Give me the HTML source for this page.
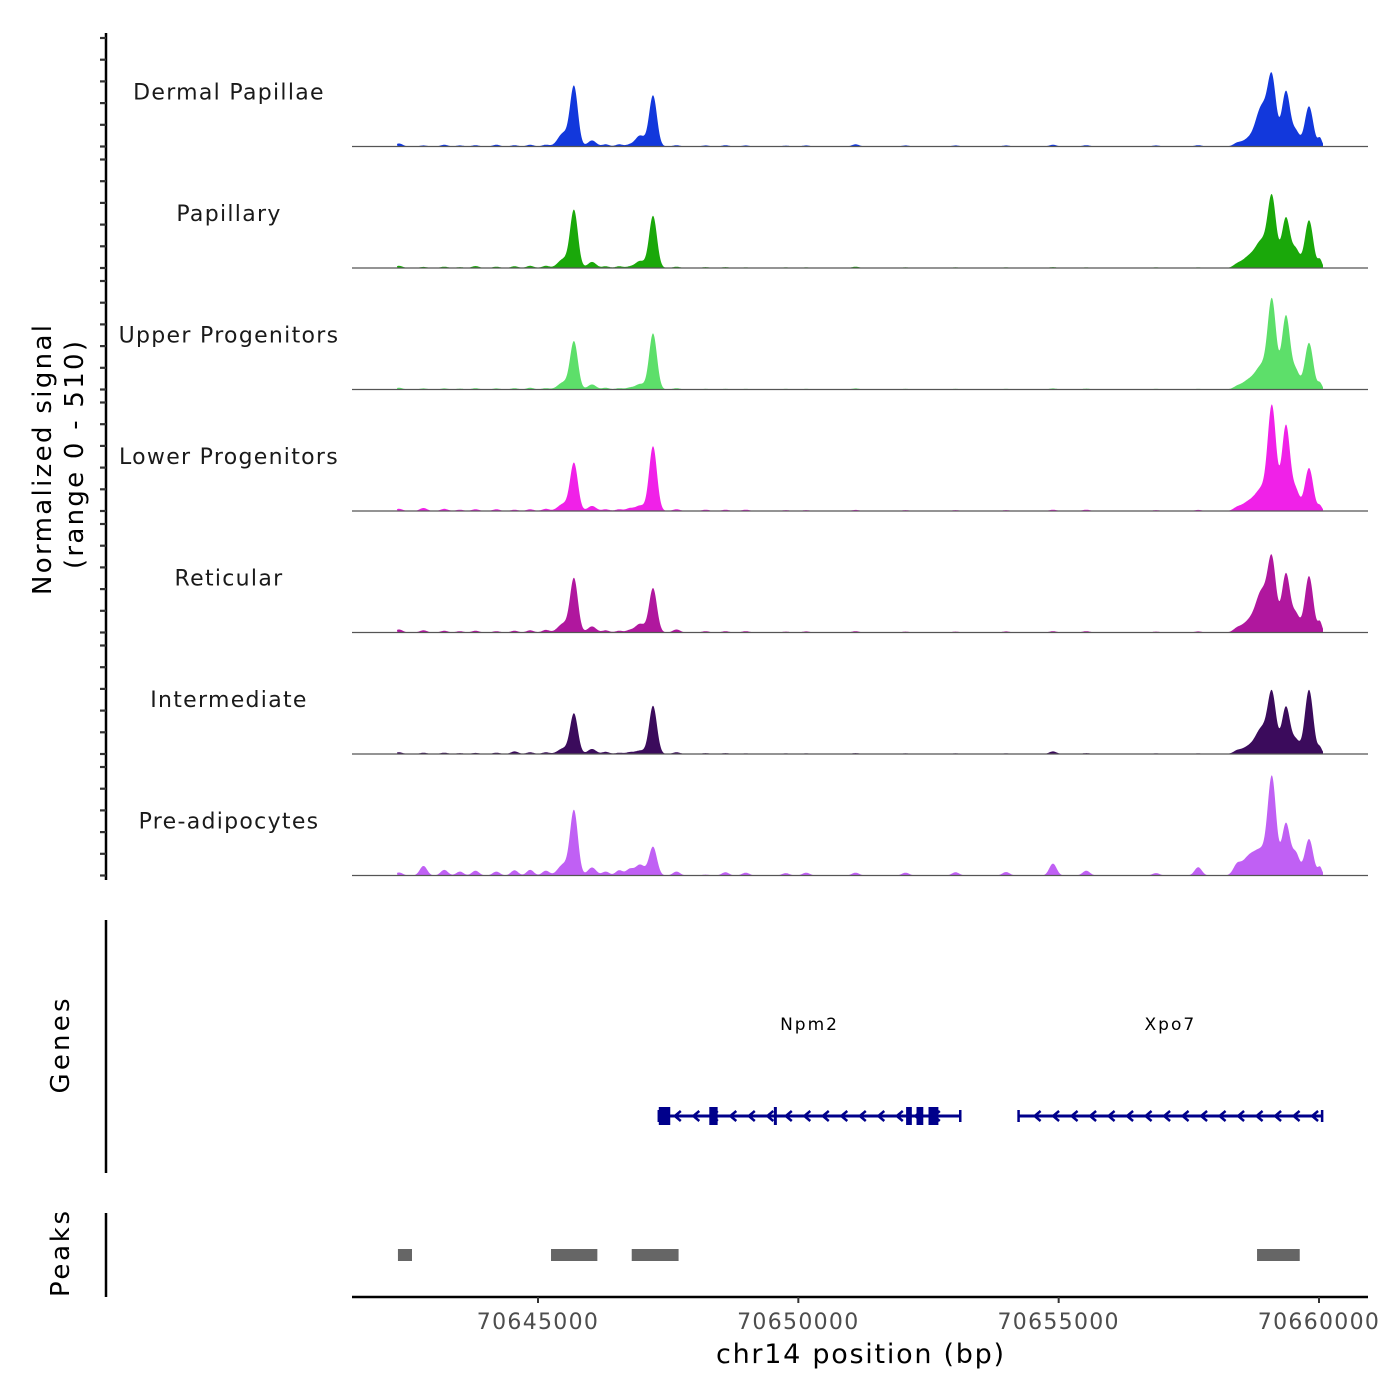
<!DOCTYPE html>
<html><head><meta charset="utf-8">
<style>
html,body{margin:0;padding:0;background:#fff;}
svg{display:block;font-family:"DejaVu Sans","Liberation Sans",sans-serif;}
</style></head>
<body>
<svg id="chart" width="1400" height="1400" viewBox="0 0 1400 1400">
  <g id="tracks"></g>
  <line x1="106" y1="33" x2="106" y2="880" stroke="#000" stroke-width="2.5"/>
  <g id="yticks"></g>
  <text transform="translate(51,460) rotate(-90)" text-anchor="middle" font-size="26" textLength="270" lengthAdjust="spacing" fill="#000">Normalized signal</text>
  <text transform="translate(83,455) rotate(-90)" text-anchor="middle" font-size="26" textLength="228" lengthAdjust="spacing" fill="#000">(range 0 - 510)</text>

  <line x1="106" y1="920" x2="106" y2="1173" stroke="#000" stroke-width="2.5"/>
  <text transform="translate(69,1046) rotate(-90)" text-anchor="middle" font-size="26" textLength="95" lengthAdjust="spacing" fill="#000">Genes</text>
  <g id="genes"></g>

  <line x1="106" y1="1213" x2="106" y2="1297" stroke="#000" stroke-width="2.5"/>
  <text transform="translate(69,1254) rotate(-90)" text-anchor="middle" font-size="26" textLength="86" lengthAdjust="spacing" fill="#000">Peaks</text>
  <g id="peaks"></g>

  <line x1="352" y1="1297" x2="1368" y2="1297" stroke="#000" stroke-width="2.5"/>
  <g id="xticks"></g>
  <text x="860" y="1363" text-anchor="middle" font-size="27" textLength="288" lengthAdjust="spacing" fill="#000">chr14 position (bp)</text>
</svg>
<script>
const trackNames = ["Dermal Papillae","Papillary","Upper Progenitors","Lower Progenitors","Reticular","Intermediate","Pre-adipocytes"];
const trackColors = ["#1238dc","#1aa80a","#5ddf6a","#f021e8","#b0179e","#3b0b5c","#c060f4"];
const peakCenters = [70645480,70645691,70646037,70646959,70647209,70658675,70658905,70659097,70659366,70659558,70659808,70660019];
const peakWidths = [100,75,80,90,75,150,110,80,80,70,80,40];
const heightsDP = [60,275,28,50,235,37,170,300,255,65,185,37];
const heightsPap = [40,265,28,32,240,55,105,315,232,80,220,37];
const heightsUp = [32,220,23,25,258,46,92,400,340,80,215,28];
const heightsLow = [32,220,23,25,298,46,85,470,395,88,198,23];
const heightsRet = [40,248,28,40,204,55,170,318,272,80,260,46];
const heightsInt = [25,185,23,16,222,37,105,270,218,60,296,28];
const heightsPre = [50,298,37,50,132,92,85,440,240,96,168,37];
const bgPositions = [70642330,70642800,70643200,70643500,70643800,70644200,70644550,70644850,70645150,70646300,70646560,70646760,70647660,70648220,70648600,70648990,70649760,70650150,70651100,70652060,70653020,70653990,70654890,70655530,70656870,70657680,70658420];
const bgDP = [14,5,8,5,6,8,6,8,8,10,10,8,6,5,6,5,4,5,10,5,5,5,8,6,5,6,10];
const bgPap = [10,5,6,4,9,6,8,10,10,8,8,6,6,4,4,3,3,3,6,3,3,3,4,3,3,3,10];
const bgUp = [8,5,5,4,6,5,6,8,6,8,6,8,6,3,3,3,3,3,5,3,3,3,5,4,3,3,8];
const bgLow = [10,14,10,6,8,8,6,8,10,8,8,12,8,6,6,6,4,4,5,4,4,4,6,6,4,5,10];
const bgRet = [14,10,8,6,8,6,8,10,12,10,8,10,14,6,6,6,4,5,6,4,4,5,6,6,4,5,12];
const bgInt = [8,6,6,4,5,6,12,8,8,10,6,8,8,4,4,3,3,3,4,3,3,3,12,4,3,3,10];
const bgPre = [14,44,26,18,22,18,24,26,22,18,24,28,18,4,15,13,11,13,13,13,15,16,55,22,11,38,36];
const trackHeights = [heightsDP,heightsPap,heightsUp,heightsLow,heightsRet,heightsInt,heightsPre];
const trackBg = [bgDP,bgPap,bgUp,bgLow,bgRet,bgInt,bgPre];
const yTickValues = [0,100,200,300,400,500];
const xTickValues = [70645000,70650000,70655000,70660000];
const xTickLabels = ["70645000","70650000","70655000","70660000"];
const geneNames = ["Npm2","Xpo7"];
const geneStarts = [70647320,70654230];
const geneEnds = [70653110,70660060];
const exonStarts = [70647320,70648290,70649530,70652070,70652270,70652500];
const exonEnds = [70647540,70648450,70649580,70652180,70652400,70652690];
const peakStarts = [70642310,70645250,70646800,70658810];
const peakEnds = [70642580,70646140,70647700,70659630];
const dataStart = 70642300, dataEnd = 70660060;

const NS = "http://www.w3.org/2000/svg";
function xS(bp){ return 538 + (bp - 70645000) * (781/15000); }
const panelTop0 = 25, panelH = 121.5, pxPerUnit = 21.7/100;
function baseY(i){ return panelTop0 + panelH*(i+1); }
function yS(i,v){ return baseY(i) - v*pxPerUnit; }
function mk(tag, attrs, parent){ const e=document.createElementNS(NS,tag); for(const k in attrs) e.setAttribute(k,attrs[k]); parent.appendChild(e); return e; }

const tracks = document.getElementById("tracks");
const yt = document.getElementById("yticks");
for(let i=0;i<trackNames.length;i++){
  const g = mk("g",{},tracks);
  
  
  const lbl = mk("text",{x:229,y:baseY(i)-47,"text-anchor":"middle","font-size":"22","letter-spacing":"1.3","fill":"#1a1a1a"},g);
  lbl.textContent = trackNames[i];
  
  
  const H = trackHeights[i], B = trackBg[i];
  let d = "M" + xS(dataStart).toFixed(1) + "," + baseY(i);
  const x0 = Math.floor(xS(dataStart)), x1 = Math.ceil(xS(dataEnd));
  for(let px=x0; px<=x1; px+=0.5){
    const bp = 70645000 + (px-538)*15000/781;
    let v = 0;
    for(let k=0;k<peakCenters.length;k++){ const z=(bp-peakCenters[k])/peakWidths[k]; v += H[k]*Math.exp(-0.5*z*z); }
    for(let k=0;k<bgPositions.length;k++){ const z=(bp-bgPositions[k])/70; v += B[k]*Math.exp(-0.5*z*z); }
    v = Math.min(v, 510);
    d += " L" + px.toFixed(1) + "," + yS(i,v).toFixed(1);
  }
  d += " L" + x1 + "," + baseY(i) + " Z";
  const area = mk("path",{d:d,fill:trackColors[i],stroke:"none"},g);
  
  
  const bl = mk("line",{x1:352,x2:1368,y1:baseY(i),y2:baseY(i),stroke:"#555","stroke-width":"1.2"},g);
  
  
  for(const tv of yTickValues){
    const t = mk("line",{x1:100,x2:106,y1:yS(i,tv),y2:yS(i,tv),stroke:"#333","stroke-width":"2.2"},yt);
    
    
  }
}

const genes = document.getElementById("genes");
const gy = 1116, gc = "#00008b";
for(let j=0;j<geneNames.length;j++){
  const l = mk("line",{x1:xS(geneStarts[j]),x2:xS(geneEnds[j]),y1:gy,y2:gy,stroke:gc,"stroke-width":"3"},genes);
  
  
  const t = mk("text",{x:(xS(geneStarts[j])+xS(geneEnds[j]))/2,y:1030,"text-anchor":"middle","font-size":"17","letter-spacing":"2","fill":"#000"},genes);
  t.textContent = geneNames[j];
  
  
  const a = xS(geneStarts[j]), b = xS(geneEnds[j]);
  for(let x=a+18; x<b-6; x+=18.5){
    const ar = mk("path",{d:"M"+(x+4)+","+(gy-5)+" L"+(x-2)+","+gy+" L"+(x+4)+","+(gy+5),fill:"none",stroke:gc,"stroke-width":"2.5"},genes);
    
    
  }
  for(const xe of [a,b]){
    const c = mk("line",{x1:xe,x2:xe,y1:gy-6,y2:gy+6,stroke:gc,"stroke-width":"2.5"},genes);
    
    
  }
}
for(let k=0;k<exonStarts.length;k++){
  const r = mk("rect",{x:xS(exonStarts[k]),y:gy-9,width:Math.max(3,xS(exonEnds[k])-xS(exonStarts[k])),height:18,fill:gc},genes);
  
  
}

const peaks = document.getElementById("peaks");
for(let k=0;k<peakStarts.length;k++){
  const r = mk("rect",{x:xS(peakStarts[k]),y:1249,width:xS(peakEnds[k])-xS(peakStarts[k]),height:12,fill:"#666"},peaks);
  
  
}

const xt = document.getElementById("xticks");
for(let k=0;k<xTickValues.length;k++){
  const x = xS(xTickValues[k]);
  const t = mk("line",{x1:x,x2:x,y1:1297,y2:1303,stroke:"#333","stroke-width":"2"},xt);
  
  
  const l = mk("text",{x:x,y:1329,"text-anchor":"middle","font-size":"22","letter-spacing":"1.3","fill":"#4d4d4d"},xt);
  l.textContent = xTickLabels[k];
  
  
}
</script>
</body></html>
